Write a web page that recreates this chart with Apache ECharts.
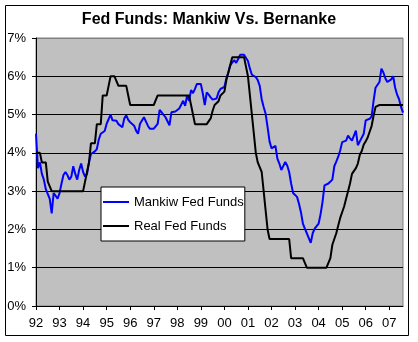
<!DOCTYPE html>
<html>
<head>
<meta charset="utf-8">
<script src="https://cdn.jsdelivr.net/npm/echarts@6/dist/echarts.min.js"></script>
<style>
html,body{margin:0;padding:0;background:#fff;}
#c{width:418px;height:342px;}
</style>
</head>
<body>
<div id="c"></div>
<script>
// Year tick labels (one tick per January)
var yearLabels = ['92','93','94','95','96','97','98','99','00','01','02','03','04','05','06','07'];
var monthCount = 188; // Jan 1992 .. Aug 2007

// Mankiw rule fed funds (%), monthly
var mankiw = [
  4.5, 3.6, 3.75, 3.45, 3.3, 3.05, 3.0, 2.8, 2.42, 2.95, 2.88, 2.8,      // 92
  2.95, 3.2, 3.42, 3.5, 3.42, 3.3, 3.38, 3.65, 3.45, 3.3, 3.55, 3.72,    // 93
  3.5, 3.38, 3.45, 3.75, 3.97, 4.02, 4.04, 4.1, 4.35, 4.5, 4.52, 4.57,   // 94
  4.76, 4.8, 5.0, 4.85, 4.9, 4.84, 4.75, 4.7, 4.67, 4.9, 4.98, 4.86,     // 95
  4.8, 4.84, 4.71, 4.58, 4.5, 4.76, 4.8, 4.93, 4.91, 4.71, 4.63, 4.65,   // 96
  4.63, 4.6, 4.76, 5.12, 5.06, 5.06, 4.93, 4.97, 4.72, 5.06, 5.02, 5.08, // 97
  5.13, 5.16, 5.21, 5.36, 5.23, 5.5, 5.36, 5.64, 5.56, 5.67, 5.8, 5.8,   // 98
  5.8, 5.55, 5.25, 5.58, 5.52, 5.45, 5.39, 5.34, 5.42, 5.58, 5.67, 5.62, // 99
  5.72, 5.95, 6.1, 6.28, 6.36, 6.42, 6.35, 6.45, 6.56, 6.6, 6.56, 6.57,  // 00
  6.4, 6.2, 6.04, 6.02, 5.98, 5.9, 5.75, 5.4, 5.2, 5.02, 4.67, 4.3,      // 01
  4.12, 4.08, 4.18, 3.85, 3.72, 3.55, 3.6, 3.76, 3.67, 3.5, 3.2, 2.95,   // 02
  2.97, 2.85, 2.67, 2.45, 2.15, 2.02, 1.9, 1.92, 1.65, 1.9, 2.02, 2.0,   // 03
  2.15, 2.4, 2.72, 3.15, 3.15, 3.2, 3.25, 3.3, 3.65, 3.77, 3.9, 4.06,    // 04
  4.28, 4.33, 4.32, 4.45, 4.38, 4.32, 4.45, 4.58, 4.2, 4.3, 4.35, 4.5,   // 05
  4.85, 4.85, 4.89, 4.95, 5.36, 5.7, 5.65, 5.85, 6.2, 6.1, 5.95, 5.85,   // 06
  5.85, 5.92, 6.0, 5.7, 5.52, 5.4, 5.2, 5.05                             // 07
];

var realFF = [
  4, 4, 4, 3.75, 3.75, 3.75, 3.25, 3.25, 3, 3, 3, 3,                     // 92
  3, 3, 3, 3, 3, 3, 3, 3, 3, 3, 3, 3,                                    // 93
  3, 3.25, 3.5, 3.75, 4.25, 4.25, 4.25, 4.75, 4.75, 4.75, 5.5, 5.5,      // 94
  5.5, 5.75, 6, 6, 6, 6, 5.75, 5.75, 5.75, 5.75, 5.75, 5.5,              // 95
  5.25, 5.25, 5.25, 5.25, 5.25, 5.25, 5.25, 5.25, 5.25, 5.25, 5.25, 5.25,// 96
  5.25, 5.25, 5.5, 5.5, 5.5, 5.5, 5.5, 5.5, 5.5, 5.5, 5.5, 5.5,          // 97
  5.5, 5.5, 5.5, 5.5, 5.5, 5.5, 5.5, 5.25, 5.0, 4.75, 4.75, 4.75,        // 98
  4.75, 4.75, 4.75, 4.75, 4.75, 4.9, 5.1, 5.25, 5.25, 5.35, 5.5, 5.5,    // 99
  5.6, 5.9, 6.1, 6.3, 6.5, 6.5, 6.5, 6.5, 6.5, 6.5, 6.5, 6.5,            // 00
  6, 5.5, 5, 4.5, 4, 3.75, 3.75, 3.5, 3, 2.5, 2, 1.75,                   // 01
  1.75, 1.75, 1.75, 1.75, 1.75, 1.75, 1.75, 1.75, 1.75, 1.75, 1.25, 1.25,// 02
  1.25, 1.25, 1.25, 1.25, 1.25, 1.25, 1.0, 1.0, 1.0, 1.0, 1.0, 1.0,      // 03
  1, 1, 1, 1, 1, 1, 1.25, 1.6, 1.75, 1.9, 2.1, 2.3,                      // 04
  2.45, 2.6, 2.8, 3.0, 3.2, 3.45, 3.5, 3.6, 3.72, 3.95, 4.05, 4.22,      // 05
  4.3, 4.4, 4.55, 4.7, 4.97, 5.2, 5.25, 5.25, 5.25, 5.25, 5.25, 5.25,    // 06
  5.25, 5.25, 5.25, 5.25, 5.25, 5.25, 5.25, 5.25                         // 07
];

var yTickLabels = ['0%','1%','2%','3%','4%','5%','6%','7%'];

var categories = [];
for (var i = 0; i < monthCount; i++) {
  categories.push(yearLabels[Math.floor(i / 12)] + '-' + (i % 12 + 1));
}

var FONT = 'Liberation Sans, Arial, sans-serif';
var chart = echarts.init(document.getElementById('c'), null, {renderer: 'canvas'});
chart.setOption({
  animation: false,
  backgroundColor: '#fff',
  textStyle: {fontFamily: FONT},
  title: {
    text: 'Fed Funds: Mankiw Vs. Bernanke',
    left: 'center',
    top: 12,
    padding: 0,
    textStyle: {fontSize: 16, fontWeight: 'bold', color: '#000', fontFamily: FONT}
  },
  graphic: [{
    type: 'rect',
    shape: {x: 5.5, y: 5.5, width: 403, height: 330},
    style: {fill: null, stroke: '#000', lineWidth: 1},
    silent: true,
    z: 100
  }],
  legend: {
    orient: 'vertical',
    left: 101,
    top: 187,
    backgroundColor: '#fff',
    borderColor: '#000',
    borderWidth: 1,
    borderRadius: 0,
    padding: [8, 1, 8, 2],
    itemWidth: 26,
    itemHeight: 2,
    itemGap: 10,
    icon: 'rect',
    textStyle: {fontSize: 13, lineHeight: 14, color: '#000', fontFamily: FONT},
    data: ['Mankiw Fed Funds', 'Real Fed Funds']
  },
  grid: {
    left: 36,
    right: 15,
    top: 38,
    bottom: 36,
    show: true,
    backgroundColor: '#C0C0C0',
    borderColor: '#808080',
    borderWidth: 1
  },
  xAxis: {
    type: 'category',
    data: categories,
    boundaryGap: false,
    axisLine: {lineStyle: {color: '#000', width: 1}},
    axisTick: {
      interval: function (idx) { return idx % 12 === 0; },
      length: 4,
      lineStyle: {color: '#000'}
    },
    axisLabel: {
      interval: function (idx) { return idx % 12 === 0; },
      formatter: function (v) { return v.split('-')[0]; },
      color: '#000',
      fontSize: 13,
      margin: 11,
      fontFamily: FONT
    },
    splitLine: {show: false}
  },
  yAxis: {
    type: 'value',
    min: 0,
    max: 7,
    interval: 1,
    axisLine: {show: true, lineStyle: {color: '#000', width: 1}},
    axisTick: {show: true, length: 4, lineStyle: {color: '#000'}},
    axisLabel: {
      formatter: function (v) { return yTickLabels[Math.round(v)]; },
      color: '#000',
      fontSize: 13,
      margin: 10,
      fontFamily: FONT
    },
    splitLine: {
      show: true,
      lineStyle: {color: ['#000','#000','#000','#000','#000','#000','#000','#808080'], width: 1}
    }
  },
  series: [{
    name: 'Mankiw Fed Funds',
    type: 'line',
    data: mankiw,
    symbol: 'none',
    color: '#0000FF',
    lineStyle: {color: '#0000FF', width: 2},
    itemStyle: {color: '#0000FF'}
  }, {
    name: 'Real Fed Funds',
    type: 'line',
    data: realFF,
    symbol: 'none',
    color: '#000000',
    lineStyle: {color: '#000000', width: 2},
    itemStyle: {color: '#000000'}
  }]
});
</script>
</body>
</html>
